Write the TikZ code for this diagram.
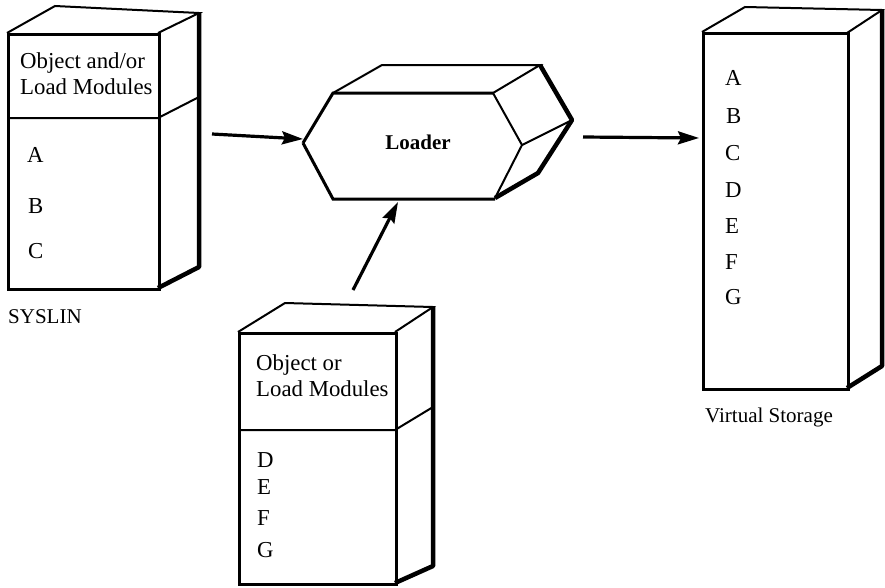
\documentclass[tikz,border=0pt]{standalone}
\usepackage{fontspec}
\setmainfont{Liberation Serif}
\usetikzlibrary{arrows.meta}
\begin{document}
\begin{tikzpicture}[x=1pt,y=-1pt,
  front/.style={line width=3pt,line join=miter},
  inner/.style={line width=2pt,line join=miter},
  outer/.style={line width=4.5pt,line join=round},
  flow/.style={line width=3.2pt,-{Stealth[length=21pt,width=13pt,inset=3pt]}},
  txt/.style={anchor=base west,inner sep=0pt,font=\fontsize{22.8}{25}\selectfont},
  lbl/.style={anchor=base west,inner sep=0pt,font=\fontsize{21}{24}\selectfont}]
\useasboundingbox (0,0) rectangle (885,587);

% ---------- SYSLIN data set ----------
\draw[inner] (7,33) -- (55,6) -- (199,13) -- (158,33);
\draw[inner] (7,118) -- (158,118) -- (199,97);
\draw[outer] (199,13) -- (199,267) -- (158,288);
\node[draw,front,minimum width=151pt,minimum height=255pt,inner sep=0pt,anchor=north west] (sys) at (7,33) {};
\node[txt] (sysT1) at (20,68) {Object and/or};
\node[txt] (sysT2) at (20,94) {Load Modules};
\node[txt] (sysA) at (27,162) {A};
\node[txt] (sysB) at (28,213) {B};
\node[txt] (sysC) at (28,258) {C};
\node[lbl] (syslbl) at (8,323) {SYSLIN};

% ---------- Loader ----------
\draw[inner] (333,93) -- (382,65) -- (540,65) -- (493,93);
\draw[inner] (493,93) -- (522,145) -- (495,198);
\draw[inner] (522,145) -- (572,120);
\draw[outer] (540,65) -- (572,120) -- (538,173) -- (495,198);
\draw[front] (303,143) -- (333,93) -- (493,93);
\draw[front] (303,143) -- (333,199) -- (495,199);
\node[inner sep=0pt,font=\fontsize{21}{24}\selectfont\bfseries] (loader) at (418,142) {Loader};
\coordinate (loaderL) at (303,139);
\coordinate (loaderB) at (398,202);

% ---------- Virtual storage ----------
\draw[inner] (702,32) -- (745,7) -- (882,10) -- (847,33);
\draw[outer] (882,10) -- (882,366) -- (847,388);
\node[draw,front,minimum width=145pt,minimum height=356pt,inner sep=0pt,anchor=north west] (vs) at (702,32) {};
\node[txt] (vsA) at (725,85) {A};
\node[txt] (vsB) at (726,123) {B};
\node[txt] (vsC) at (725,160) {C};
\node[txt] (vsD) at (725,197) {D};
\node[txt] (vsE) at (725,233) {E};
\node[txt] (vsF) at (725,269) {F};
\node[txt] (vsG) at (725,304) {G};
\node[lbl] (vslbl) at (705,422) {Virtual Storage};
\coordinate (vsL) at (699,138);

% ---------- second input ----------
\draw[inner] (238,332) -- (285,303) -- (433,307) -- (395,332);
\draw[inner] (238,430) -- (395,430) -- (433,407);
\draw[outer] (433,307) -- (433,566) -- (395,583);
\node[draw,front,minimum width=157pt,minimum height=251pt,inner sep=0pt,anchor=north west] (mod) at (238,332) {};
\node[txt] (modT1) at (256,370) {Object or};
\node[txt] (modT2) at (256,396) {Load Modules};
\node[txt] (modD) at (257,467) {D};
\node[txt] (modE) at (257,494) {E};
\node[txt] (modF) at (257,525) {F};
\node[txt] (modG) at (257,557) {G};

% ---------- connectors ----------
\coordinate (a1s) at (212,134);
\coordinate (a2s) at (583,137);
\coordinate (a3s) at (353,290);
\draw[flow] (a1s) -- (loaderL);
\draw[flow] (a2s) -- (vsL);
\draw[flow] (a3s) -- (loaderB);
\end{tikzpicture}
\end{document}
